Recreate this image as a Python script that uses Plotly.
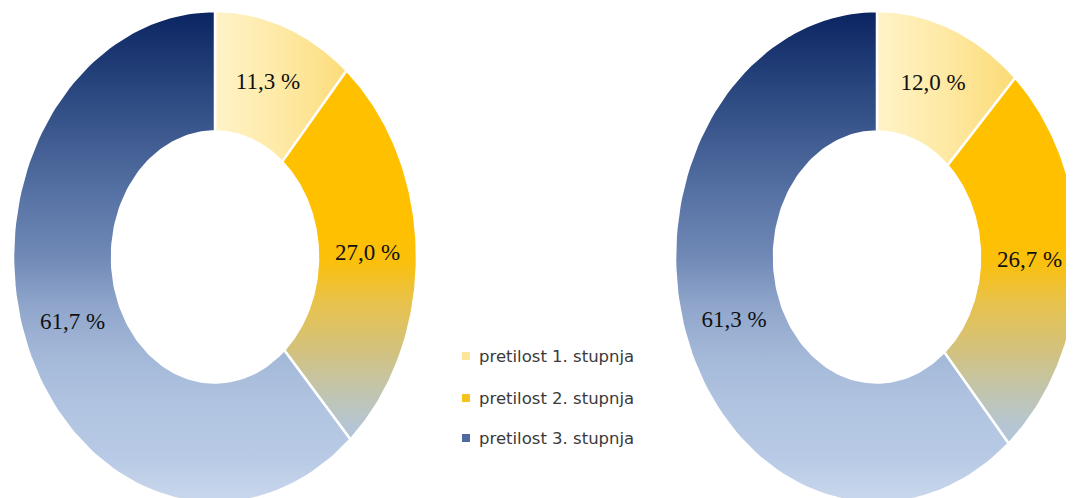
import numpy as np
import plotly.graph_objects as go

# udjeli po stupnju pretilosti (%), lijevi i desni prsten
kategorije = ["pretilost 1. stupnja", "pretilost 2. stupnja", "pretilost 3. stupnja"]
vrijednosti_lijevo = [11.3, 27.0, 61.7]
vrijednosti_desno = [12.0, 26.7, 61.3]

# geometrija prstena (u pikselima platna, y prema gore)
SIRINA, VISINA = 1074, 498
POMAK = 8  # margina tijela stranice u pregledniku
CENTRI = [(215, 241), (877, 241)]
RX, RY = 202, 246
RUPA = 0.51

# gradijenti po kriškama
gradijenti = [
    dict(type="horizontal",
         colorscale=[[0, "#FFF3C8"], [0.5, "#FEE9A4"], [1, "#FCDB76"]]),
    dict(type="vertical",
         colorscale=[[0, "#A8C3E2"], [0.15, "#B4C5D6"], [0.23, "#C2C5AC"],
                     [0.31, "#D3C27E"], [0.41, "#E8C24A"], [0.49, "#FBC00C"],
                     [0.55, "#FFC000"], [1, "#FFC000"]]),
    dict(type="vertical",
         colorscale=[[0, "#CAD8EC"], [0.09, "#B8CAE5"], [0.21, "#AFC3E0"],
                     [0.31, "#A2B7D7"], [0.41, "#8DA3C9"], [0.5, "#7089B6"],
                     [0.62, "#5873A5"], [0.82, "#2E4B82"], [1, "#0A2461"]]),
]
boje_legende = ["#FDE59A", "#F6C21C", "#5069A3"]


def kriska(cx, cy, f0, f1, n=120):
    '''poligon jedne kriške prstena, kazaljke sata od vrha'''
    t = np.pi / 2 - 2 * np.pi * np.linspace(f0, f1, n)
    x = np.concatenate([cx + RX * np.cos(t), cx + RUPA * RX * np.cos(t[::-1])])
    y = np.concatenate([cy + RY * np.sin(t), cy + RUPA * RY * np.sin(t[::-1])])
    return np.append(x, x[0]), np.append(y, y[0])


def oznaka(v):
    return f"{v:.1f}".replace(".", ",") + " %"


fig = go.Figure()

for (cx, cy), vrijednosti in zip(CENTRI, [vrijednosti_lijevo, vrijednosti_desno]):
    ukupno = sum(vrijednosti)
    kum = np.concatenate([[0], np.cumsum(vrijednosti)]) / ukupno
    tx, ty, tekst = [], [], []
    for i, v in enumerate(vrijednosti):
        x, y = kriska(cx, cy, kum[i], kum[i + 1])
        g = dict(gradijenti[i])
        if g["type"] == "vertical":
            g.update(start=cy - RY, stop=cy + RY)
        else:
            g.update(start=cx, stop=cx + 0.68 * RX)
        fig.add_trace(go.Scatter(
            x=x, y=y, fill="toself", mode="lines",
            line=dict(color="white", width=2.5),
            fillgradient=g, showlegend=False, hoverinfo="skip",
        ))
        # oznaka na sredini prstena
        sred = np.pi / 2 - 2 * np.pi * (kum[i] + kum[i + 1]) / 2
        r = (1 + RUPA) / 2
        tx.append(cx + r * RX * np.cos(sred))
        ty.append(cy + r * RY * np.sin(sred))
        tekst.append(oznaka(v))
    fig.add_trace(go.Scatter(
        x=tx, y=ty, mode="text", text=tekst,
        textfont=dict(family="Liberation Serif", size=23, color="#111111"),
        showlegend=False, hoverinfo="skip",
    ))

# legenda, ručno složena između prstenova
leg_x = 466
leg_y = [142, 100, 60]
fig.add_trace(go.Scatter(
    x=[leg_x] * 3, y=leg_y, mode="markers",
    marker=dict(symbol="square", size=8, color=boje_legende,
                line=dict(width=0)),
    showlegend=False, hoverinfo="skip",
))
for ime, yy in zip(kategorije, leg_y):
    fig.add_annotation(
        x=leg_x + 11, y=yy, text=ime, showarrow=False,
        xanchor="left", yanchor="middle",
        font=dict(family="DejaVu Sans", size=16.5, color="#3a3a3a"),
    )

fig.update_xaxes(range=[POMAK, SIRINA + POMAK], visible=False, fixedrange=True)
fig.update_yaxes(range=[-POMAK, VISINA - POMAK], visible=False, fixedrange=True)
fig.update_layout(
    width=SIRINA, height=VISINA, autosize=False,
    margin=dict(t=0, b=0, l=0, r=0),
    plot_bgcolor="white", paper_bgcolor="white",
    hovermode=False, showlegend=False,
)

fig.write_html("out.html")
